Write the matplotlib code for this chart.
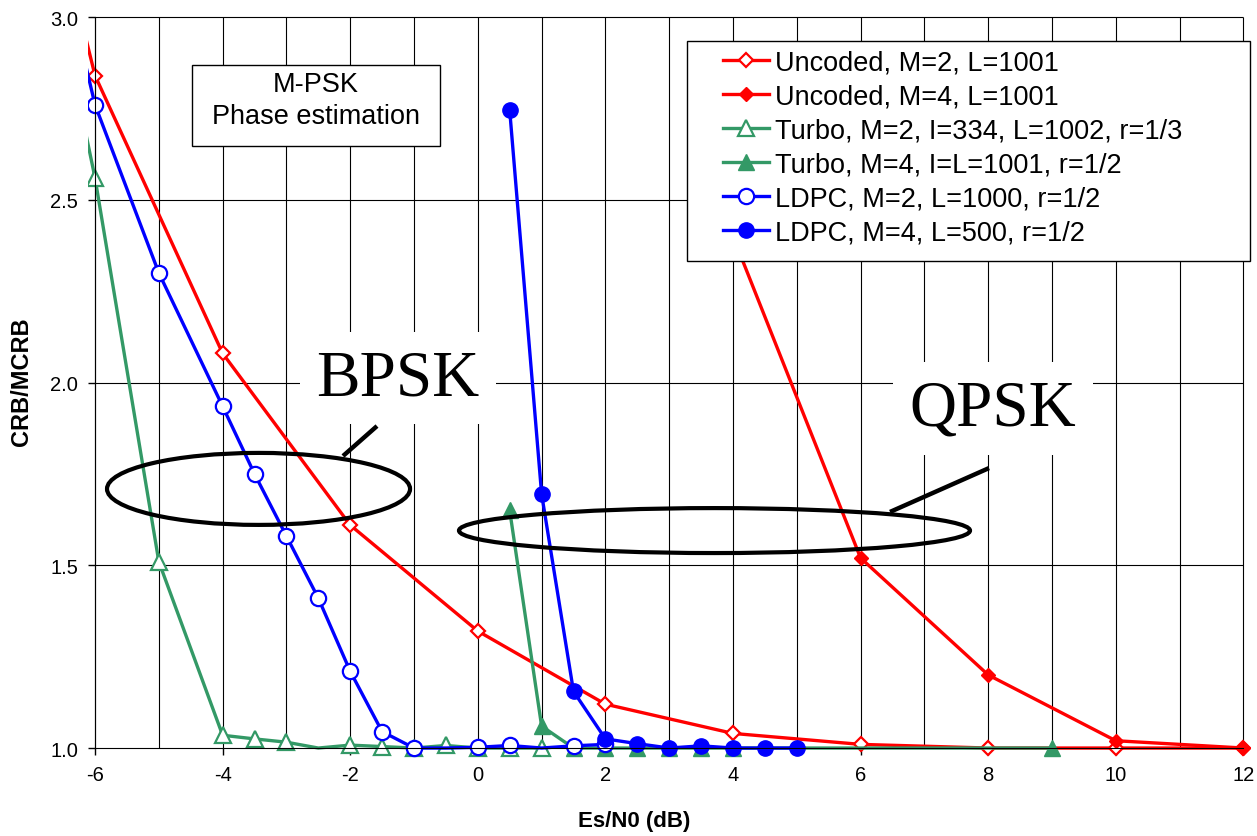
import numpy as np
import matplotlib
matplotlib.use("Agg")
import matplotlib.pyplot as plt
from matplotlib.patches import Ellipse, Rectangle

plt.rcParams['font.family'] = ['Liberation Sans', 'DejaVu Sans']
plt.rcParams['axes.unicode_minus'] = False

# Es/N0 (dB) and CRB/MCRB per curve (first point of some curves lies left of the axis, as in the original)
x_unc2 = [-7, -6, -4, -2, 0, 2, 4, 6, 8, 10, 12]
y_unc2 = [3.55, 2.84, 2.08, 1.61, 1.32, 1.12, 1.04, 1.01, 1.0, 1.0, 1.0]

x_unc4 = [4, 6, 8, 10, 12]
y_unc4 = [2.40, 1.52, 1.20, 1.02, 1.0]

x_tur2 = [-7, -6, -5, -4, -3.5, -3, -2.5, -2, -1.5, -1, -0.5, 0, 0.5, 1]
y_tur2 = [3.4, 2.56, 1.51, 1.035, 1.025, 1.016, 1.0, 1.008, 1.004, 1.0, 1.007, 1.0, 1.0, 1.0]
hide_tur2 = [-2.5]

x_tur4 = [0.5, 1, 1.5, 2, 2.5, 3, 3.5, 4, 9]
y_tur4 = [1.65, 1.06, 1.0, 1.0, 1.0, 1.0, 1.0, 1.0, 1.0]

x_ldpc2 = [-7, -6, -5, -4, -3.5, -3, -2.5, -2, -1.5, -1, -0.5, 0, 0.5, 1, 1.5, 2]
y_ldpc2 = [3.5, 2.76, 2.30, 1.935, 1.75, 1.58, 1.41, 1.21, 1.045, 1.0, 1.0, 1.002, 1.007, 1.0, 1.006, 1.01]
hide_ldpc2 = [-0.5, 1]

x_ldpc4 = [0.5, 1, 1.5, 2, 2.5, 3, 3.5, 4, 4.5, 5]
y_ldpc4 = [2.745, 1.695, 1.155, 1.025, 1.012, 1.0, 1.006, 1.0, 1.0, 1.0]

labels = ["Uncoded, M=2, L=1001",
          "Uncoded, M=4, L=1001",
          "Turbo, M=2, I=334, L=1002, r=1/3",
          "Turbo, M=4, I=L=1001, r=1/2",
          "LDPC, M=2, L=1000, r=1/2",
          "LDPC, M=4, L=500, r=1/2"]

x_ticks = [-6, -4, -2, 0, 2, 4, 6, 8, 10, 12]
y_ticks = [1.0, 1.5, 2.0, 2.5, 3.0]

RED = '#FF0000'
GREEN = '#339966'
BLUE = '#0000FF'

W, H = 1257, 837
fig = plt.figure(figsize=(W / 100, H / 100), dpi=100)
ax = fig.add_axes([88 / W, (H - 760) / H, 1162.4 / W, 745.6 / H])
ax.set_xlim(-6.11, 12.11)
ax.set_ylim(0.97, 3.01)

# grid
ax.vlines(np.arange(-6, 13), 1.0, 3.0, colors='black', lw=0.8, zorder=1)
ax.hlines([1.5, 2.0, 2.5, 3.0], -6, 12, colors='black', lw=0.8, zorder=1)


def keep(xs, hidden):
    return [i for i, v in enumerate(xs) if v not in hidden and v >= -6]


lw = 2.4
ax.plot(x_unc2, y_unc2, color=RED, lw=lw, marker='D', ms=7.5, mfc='white', mec=RED,
        mew=1.6, markevery=keep(x_unc2, []), label=labels[0], zorder=2)
ax.plot(x_unc4, y_unc4, color=RED, lw=lw, marker='D', ms=7.5, mfc=RED, mec=RED,
        label=labels[1], zorder=2)
ax.plot(x_tur2, y_tur2, color=GREEN, lw=lw, marker='^', ms=11, mfc='white', mec=GREEN,
        mew=1.6, markevery=keep(x_tur2, hide_tur2), label=labels[2], zorder=2)
ax.plot(x_tur4, y_tur4, color=GREEN, lw=lw, marker='^', ms=11, mfc=GREEN, mec=GREEN,
        label=labels[3], zorder=2)
ax.plot(x_ldpc2, y_ldpc2, color=BLUE, lw=lw, marker='o', ms=11, mfc='white', mec=BLUE,
        mew=1.6, markevery=keep(x_ldpc2, hide_ldpc2), label=labels[4], zorder=2)
ax.plot(x_ldpc4, y_ldpc4, color=BLUE, lw=lw, marker='o', ms=11, mfc=BLUE, mec=BLUE,
        label=labels[5], zorder=2)

# axes
for s in ['top', 'right']:
    ax.spines[s].set_visible(False)
ax.spines['left'].set_position(('data', -6))
ax.spines['left'].set_bounds(1.0, 3.0)
ax.spines['bottom'].set_position(('data', 1.0))
ax.spines['bottom'].set_bounds(-6, 12)
ax.set_xticks(x_ticks)
ax.set_xticklabels([str(v) for v in x_ticks])
ax.set_yticks(y_ticks)
ax.set_yticklabels(['%.1f' % v for v in y_ticks])
ax.tick_params(direction='out', length=5, width=1, labelsize=14.5, pad=7)

fig.text(634 / W, 1 - 822 / H, 'Es/N0 (dB)', fontsize=16, fontweight='bold',
         ha='center', va='center')
fig.text(22 / W, 1 - 382 / H, 'CRB/MCRB', fontsize=17, fontweight='bold',
         rotation=90, ha='center', va='center')

# annotation box
ax.add_patch(Rectangle((-4.48, 2.646), 3.885, 0.224, fc='white', ec='black', lw=1, zorder=3))
ax.text(-2.536, 2.772, 'M-PSK\nPhase estimation', fontsize=19.5, ha='center', va='center',
        linespacing=1.3, zorder=3)

# ellipses + labels
ax.add_patch(Ellipse((-3.437, 1.709), 4.75, 0.197, fill=False, ec='black', lw=3, zorder=4))
ax.add_patch(Ellipse((3.71, 1.595), 8.01, 0.123, fill=False, ec='black', lw=3, zorder=4))
ax.plot([-2.113, -1.58], [1.799, 1.881], color='black', lw=3.2, solid_capstyle='butt', zorder=4)
ax.plot([6.461, 8.013], [1.646, 1.766], color='black', lw=3.2, solid_capstyle='butt', zorder=4)
box = dict(boxstyle='square,pad=0.25', fc='white', ec='none')
ax.text(-1.25, 1.9685, 'BPSK', fontsize=47, family='Liberation Serif', ha='center',
        va='baseline', bbox=box, zorder=1.5)
ax.text(8.075, 1.886, 'QPSK', fontsize=47, family='Liberation Serif', ha='center',
        va='baseline', bbox=box, zorder=1.5)

# legend with Excel-like frame
ax.add_patch(Rectangle((687 / W, 1 - 262 / H), 563 / W, 220 / H, transform=fig.transFigure,
                       fc='white', ec='black', lw=1, zorder=4.5, clip_on=False))
ax.legend(loc='upper left', bbox_to_anchor=(723 / W, 1 - 50 / H), bbox_transform=fig.transFigure,
          frameon=False, fontsize=19.5, borderpad=0, borderaxespad=0, handlelength=1.7,
          handletextpad=0.22, labelspacing=0.3)

fig.savefig('out.png', dpi=100)
